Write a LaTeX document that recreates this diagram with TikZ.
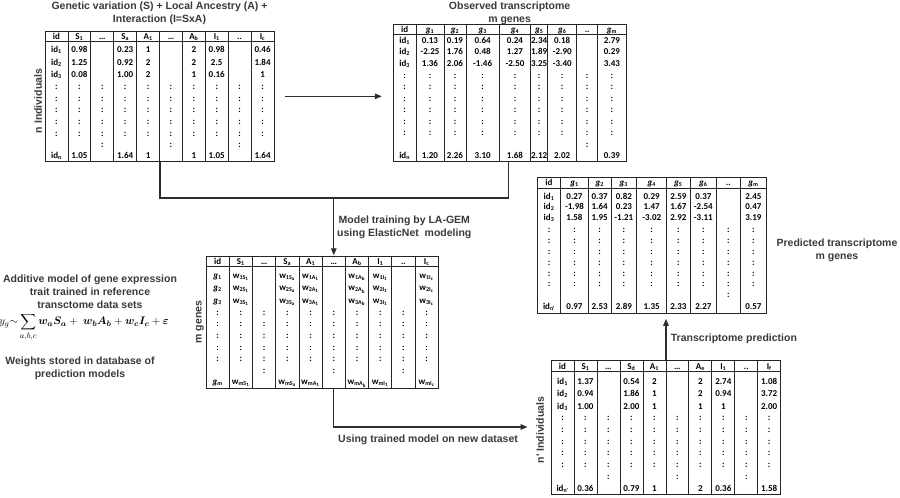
\documentclass[tikz,border=0pt]{standalone}
\usepackage{fontspec}
\usepackage{amsmath}
\usepackage{bm}
\newfontfamily\tabfont{Carlito}
\newfontfamily\labfont{Liberation Sans}
\usetikzlibrary{arrows.meta,fit,calc}
\definecolor{labgray}{HTML}{3A3A3A}
\definecolor{linegray}{HTML}{2E2E2E}
\newcommand\sbs[1]{\textsubscript{#1}}
% grid: name, left, right, top, header line, bottom, inner vertical lines
\newcommand\tgrid[7]{%
  \coordinate (#1nw) at (#2,#4);
  \coordinate (#1se) at (#3,#6);
  \node[frame, fit=(#1nw)(#1se)] (#1) {};
  \draw[tline] (#2,#5) -- (#3,#5);
  \foreach \xx in {#7} {\draw[tline] (\xx,#4) -- (\xx,#6);}
}
% row: cols array, table, row tag, y, entries
\newcommand\trow[5]{%
  \foreach \t [count=\i] in {#5} {%
    \pgfmathsetmacro\cx{#1[\i-1]}%
    \node[cell] (#2-#3-\i) at (\cx,#4) {\t};}%
}
% dots: cols array, table, tag, y list, column list
\newcommand\tdots[5]{%
  \foreach \yy [count=\j] in {#4} {\foreach \i in {#5} {%
    \pgfmathsetmacro\cx{#1[\i-1]}%
    \node[cell] (#2-#3\j-\i) at (\cx,\yy) {:};}}%
}
\begin{document}
\begin{tikzpicture}[x=1pt,y=-1pt,
  frame/.style={draw=black!85, line width=0.9pt, inner sep=0pt},
  tline/.style={draw=black!85, line width=0.7pt},
  cell/.style={font=\tabfont\bfseries\fontsize{9}{10}\selectfont, inner sep=0pt, text height=6.2pt, text depth=0pt, text=black},
  lab/.style={font=\labfont\bfseries\fontsize{10.5}{13}\selectfont, text=labgray, align=center, inner sep=0pt},
  conn/.style={draw=linegray, line width=1.3pt},
  arr/.style={conn, -{Triangle[length=7pt,width=5.5pt]}},
  formula/.style={font=\fontsize{11}{13}\selectfont, inner sep=0pt}
]
\fill[white] (0,0) rectangle (900,498);
\useasboundingbox (0,0) rectangle (900,498);

% ---------- titles and labels ----------
\node[lab] (tA) at (159.5,13.7) {Genetic variation (S) + Local Ancestry (A) +\\Interaction (I=SxA)};
\node[lab] (tB) at (509.6,13) {Observed transcriptome\\m genes};
\node[lab, rotate=90] (lN) at (38,101) {n Individuals};
\node[lab, rotate=90] (lG) at (200,322) {m genes};
\node[lab, rotate=90] (lN2) at (540,430) {n' Individuals};
\node[lab, anchor=west] (lM) at (337,227.5) {Model training by LA-GEM\\using ElasticNet\ \ modeling};
\node[lab] (lP) at (837,250.3) {Predicted transcriptome\\m genes};
\node[lab, anchor=west] (lT) at (670.7,339) {Transcriptome prediction};
\node[lab, anchor=west] (lU) at (338,440) {Using trained model on new dataset};
\node[lab] (lAdd) at (90,292) {Additive model of gene expression\\trait trained in reference\\transctome data sets};
\node[lab] (lW) at (80,368.5) {Weights stored in database of\\prediction models};
\node[formula] (eq) at (84,327) {$y_g{\sim}\displaystyle\sum_{a,b,c}\bm{w_aS_a} +\; \bm{w_bA_b} + \bm{w_cI_c} + \bm{\varepsilon}$};

% ---------- Table A : genotypes ----------
\def\colsA{{56.45,79.35,102.25,125.15,148.05,170.95,193.85,216.75,239.65,262.55}}
\tgrid{A}{45}{274}{31}{41}{161.7}{67.9,90.8,113.7,136.6,159.5,182.4,205.3,228.2,251.1}
\trow{\colsA}{A}{h}{36}{id,S\sbs{1},…,S\sbs{a},A\sbs{1},…,A\sbs{b},I\sbs{1},{..},I\sbs{c}}
\trow{\colsA}{A}{r1}{49.3}{id\sbs{1},0.98,{},0.23,1,{},2,0.98,{},0.46}
\trow{\colsA}{A}{r2}{62}{id\sbs{2},1.25,{},0.92,2,{},2,2.5,{},1.84}
\trow{\colsA}{A}{r3}{74.7}{id\sbs{3},0.08,{},1.00,2,{},1,0.16,{},1}
\tdots{\colsA}{A}{d}{86.3,98,109.7,121.4,133.1}{1,...,10}
\tdots{\colsA}{A}{e}{144.8}{3,6,9}
\trow{\colsA}{A}{rn}{155.7}{id\sbs{n},1.05,{},1.64,1,{},1,1.05,{},1.64}

% ---------- Table B : observed transcriptome ----------
\def\colsB{{404.65,430,455,482.65,515,539.2,562.2,587.2,611.85}}
\tgrid{B}{393.3}{626}{24}{34.5}{161.7}{416,444,466,499.3,530.7,547.7,576.7,597.7}
\trow{\colsB}{B}{h}{29.3}{id,\textit{g}\sbs{1},\textit{g}\sbs{2},\textit{g}\sbs{3},\textit{g}\sbs{4},\textit{g}\sbs{5},\textit{g}\sbs{6},{..},\textit{g}\sbs{m}}
\trow{\colsB}{B}{r1}{40.3}{id\sbs{1},0.13,0.19,0.64,0.24,2.34,0.18,{},2.79}
\trow{\colsB}{B}{r2}{51.8}{id\sbs{2},-2.25,1.76,0.48,1.27,1.89,-2.90,{},0.29}
\trow{\colsB}{B}{r3}{63.3}{id\sbs{3},1.36,2.06,-1.46,-2.50,3.25,-3.40,{},3.43}
\tdots{\colsB}{B}{d}{75,86.5,98,109.5,121,132.5}{1,...,9}
\tdots{\colsB}{B}{e}{144}{8}
\trow{\colsB}{B}{rn}{155.7}{id\sbs{n},1.20,2.26,3.10,1.68,2.12,2.02,{},0.39}

% ---------- Table C : weights ----------
\def\colsC{{217.6,240.85,264.1,287.3,310.55,333.8,357,380.25,403.45,426.7}}
\tgrid{C}{206}{438.3}{256.7}{266.7}{388}{229.2,252.5,275.7,298.9,322.2,345.4,368.6,391.8,415.1}
\trow{\colsC}{C}{h}{261.7}{id,S\sbs{1},…,S\sbs{a},A\sbs{1},…,A\sbs{b},I\sbs{1},{..},I\sbs{c}}
\trow{\colsC}{C}{r1}{275}{\textit{g}\sbs{1},w\sbs{1S\sbs{1}},{},w\sbs{1S\sbs{a}},w\sbs{1A\sbs{1}},{},w\sbs{1A\sbs{b}},w\sbs{1I\sbs{1}},{},w\sbs{1I\sbs{c}}}
\trow{\colsC}{C}{r2}{287.5}{\textit{g}\sbs{2},w\sbs{2S\sbs{1}},{},w\sbs{2S\sbs{a}},w\sbs{2A\sbs{1}},{},w\sbs{2A\sbs{b}},w\sbs{2I\sbs{1}},{},w\sbs{2I\sbs{c}}}
\trow{\colsC}{C}{r3}{300}{\textit{g}\sbs{3},w\sbs{3S\sbs{1}},{},w\sbs{3S\sbs{a}},w\sbs{3A\sbs{1}},{},w\sbs{3A\sbs{b}},w\sbs{3I\sbs{1}},{},w\sbs{3I\sbs{c}}}
\tdots{\colsC}{C}{d}{312,323.7,335.4,347.1,358.8}{1,...,10}
\tdots{\colsC}{C}{e}{370.5}{3,6,9}
\trow{\colsC}{C}{rn}{381.5}{\textit{g}\sbs{m},w\sbs{mS\sbs{1}},{},w\sbs{mS\sbs{a}},w\sbs{mA\sbs{1}},{},w\sbs{mA\sbs{b}},w\sbs{mI\sbs{1}},{},w\sbs{mI\sbs{c}}}

% ---------- Table D : predicted transcriptome ----------
\def\colsD{{549,574.5,599.65,623.85,651.7,678.35,703.35,728.35,753.35}}
\tgrid{D}{537.3}{766.7}{177.3}{188.3}{313.3}{560.7,588.3,611,636.7,666.7,690,716.7,740}
\trow{\colsD}{D}{h}{182.8}{id,\textit{g}\sbs{1},\textit{g}\sbs{2},\textit{g}\sbs{3},\textit{g}\sbs{4},\textit{g}\sbs{5},\textit{g}\sbs{6},{..},\textit{g}\sbs{m}}
\trow{\colsD}{D}{r1}{196}{id\sbs{1},0.27,0.37,0.82,0.29,2.59,0.37,{},2.45}
\trow{\colsD}{D}{r2}{206.8}{id\sbs{2},-1.98,1.64,0.23,1.47,1.67,-2.54,{},0.47}
\trow{\colsD}{D}{r3}{217.7}{id\sbs{3},1.58,1.95,-1.21,-3.02,2.92,-3.11,{},3.19}
\tdots{\colsD}{D}{d}{229.3,240.2,251.1,262,272.9,283.8}{1,...,9}
\tdots{\colsD}{D}{e}{294.5}{8}
\trow{\colsD}{D}{rn}{306.7}{id\sbs{n'},0.97,2.53,2.89,1.35,2.33,2.27,{},0.57}

% ---------- Table E : new dataset ----------
\def\colsE{{562.5,585.45,608.4,631.4,654.35,677.3,700.3,723.3,746.25,769.2}}
\tgrid{E}{551}{780.7}{360.7}{371}{494}{573.97,596.94,619.91,642.88,665.85,688.82,711.79,734.76,757.73}
\trow{\colsE}{E}{h}{366}{id,S\sbs{1},…,S\sbs{d},A\sbs{1},…,A\sbs{e},I\sbs{1},{..},I\sbs{f}}
\trow{\colsE}{E}{r1}{381}{id\sbs{1},1.37,{},0.54,2,{},2,2.74,{},1.08}
\trow{\colsE}{E}{r2}{393.8}{id\sbs{2},0.94,{},1.86,1,{},2,0.94,{},3.72}
\trow{\colsE}{E}{r3}{406.5}{id\sbs{3},1.00,{},2.00,1,{},1,1,{},2.00}
\tdots{\colsE}{E}{d}{417.5,429.2,440.9,452.6,464.3}{1,...,10}
\tdots{\colsE}{E}{e}{476}{3,6,9}
\trow{\colsE}{E}{rn}{488}{id\sbs{n'},0.36,{},0.79,1,{},2,0.36,{},1.58}

% ---------- connectors ----------
\coordinate (aS) at ($(A.east)+(11,0)$);
\coordinate (aE) at ($(A.east -| B.west)+(-11,0)$);
\draw[arr] (aS) -- (aE);

\coordinate (jA) at (160,198);
\coordinate (jB) at (508.3,198);
\coordinate (jM) at (333.8,198);
\draw[conn, line join=miter] (A.south -| jA) -- (jA) -- (jB) -- (B.south -| jB);
\draw[arr] (jM) -- ($(C.north -| jM)+(0,-1)$);

\coordinate (jC) at (333.8,427);
\coordinate (eT) at ($(E.west |- jC)+(-23,0)$);
\draw[arr, line join=miter] (C.south -| jC) -- (jC) -- (eT);

\coordinate (jE) at (666,340);
\draw[arr] (E.north -| jE) -- ($(D.south -| jE)+(0,5)$);
\end{tikzpicture}
\end{document}
